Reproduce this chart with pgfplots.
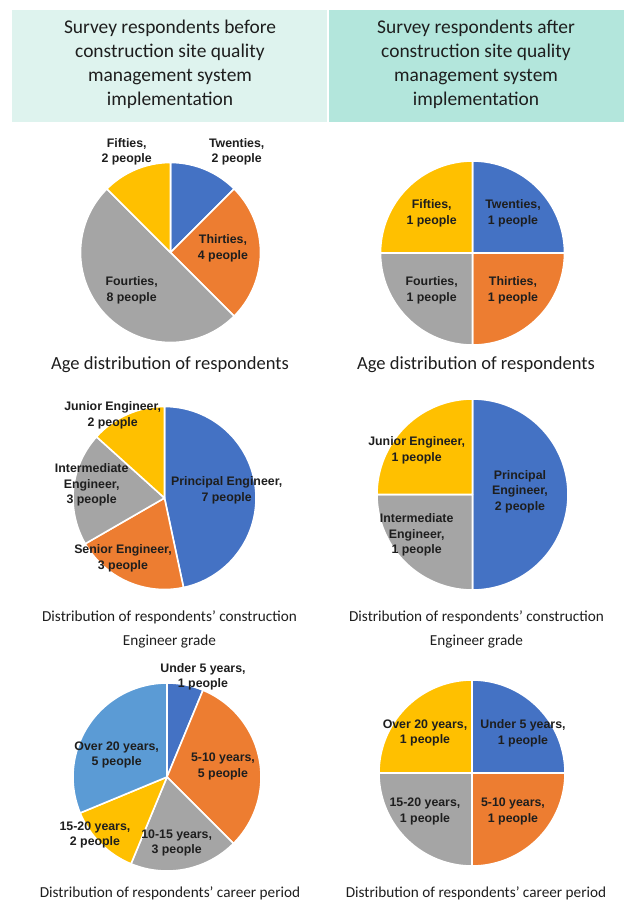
\documentclass[border=0pt]{standalone}
\usepackage{pgfplots}
\pgfplotsset{compat=1.18}
\usepackage{fontspec}
\setmainfont{Carlito}
\newfontfamily\lblfont{Liberation Sans}
\definecolor{cblue}{HTML}{4472C4}
\definecolor{corange}{HTML}{ED7D31}
\definecolor{cgray}{HTML}{A5A5A5}
\definecolor{cyellow}{HTML}{FFC000}
\definecolor{clblue}{HTML}{5B9BD5}
\definecolor{hleft}{RGB}{222,243,238}
\definecolor{hright}{RGB}{179,230,220}
\definecolor{txt}{RGB}{30,30,30}
% #1 cumulative count before slice, #2 count, #3 total, #4 colour
\newcommand{\slice}[4]{\addplot[fill=#4, draw=white, line width=1.6pt, line join=round, domain=90-360*(#1+#2)/#3:90-360*(#1)/#3, samples=90] ({cos(x)},{sin(x)}) -- (axis cs:0,0) -- cycle;}
\pgfplotsset{pie/.style={hide axis, scale only axis, width=#1, height=#1, xmin=-1, xmax=1, ymin=-1, ymax=1, clip=false, anchor=center}}
\tikzset{lbl/.style={font=\lblfont\bfseries\fontsize{12.4}{15.8}\selectfont, align=center, text=txt, inner sep=0pt},
 head/.style={font=\fontsize{19.5}{24}\selectfont, align=center, text=txt, inner sep=0pt},
 capt/.style={font=\fontsize{15.3}{24}\selectfont, align=center, text=txt, inner sep=0pt},
 captb/.style={font=\fontsize{18.6}{22}\selectfont, align=center, text=txt, inner sep=0pt}}
\begin{document}
\begin{tikzpicture}
\path[fill=white] (0,0) rectangle (626bp,-903bp);
\fill[hleft] (12bp,-10bp) rectangle (327bp,-122bp);
\fill[hright] (329bp,-10bp) rectangle (624bp,-122bp);
\node[head] at (170bp,-64.5bp) {Survey respondents before\\construction site quality\\management system\\implementation};
\node[head] at (476bp,-64.5bp) {Survey respondents after\\construction site quality\\management system\\implementation};

% Age, before: Twenties 2, Thirties 4, Fourties 8, Fifties 2
\begin{axis}[pie=180bp, at={(170.5bp,-252.5bp)}]
\slice{0}{2}{16}{cblue}
\slice{2}{4}{16}{corange}
\slice{6}{8}{16}{cgray}
\slice{14}{2}{16}{cyellow}
\end{axis}
% Age, after: 1,1,1,1
\begin{axis}[pie=184bp, at={(472.5bp,-253bp)}]
\slice{0}{1}{4}{cblue}
\slice{1}{1}{4}{corange}
\slice{2}{1}{4}{cgray}
\slice{3}{1}{4}{cyellow}
\end{axis}
% Grade, before: Principal 7, Senior 3, Intermediate 3, Junior 2
\begin{axis}[pie=183bp, at={(164.5bp,-498bp)}]
\slice{0}{7}{15}{cblue}
\slice{7}{3}{15}{corange}
\slice{10}{3}{15}{cgray}
\slice{13}{2}{15}{cyellow}
\end{axis}
% Grade, after: Principal 2, Intermediate 1, Junior 1
\begin{axis}[pie=191bp, at={(472.5bp,-494.5bp)}]
\slice{0}{2}{4}{cblue}
\slice{2}{1}{4}{cgray}
\slice{3}{1}{4}{cyellow}
\end{axis}
% Career, before: <5 1, 5-10 5, 10-15 3, 15-20 2, >20 5
\begin{axis}[pie=188bp, at={(167bp,-777bp)}]
\slice{0}{1}{16}{cblue}
\slice{1}{5}{16}{corange}
\slice{6}{3}{16}{cgray}
\slice{9}{2}{16}{cyellow}
\slice{11}{5}{16}{clblue}
\end{axis}
% Career, after: 1,1,1,1
\begin{axis}[pie=186bp, at={(472bp,-773bp)}]
\slice{0}{1}{4}{cblue}
\slice{1}{1}{4}{corange}
\slice{2}{1}{4}{cgray}
\slice{3}{1}{4}{cyellow}
\end{axis}

% labels
\node[lbl] at (126.7bp,-151.7bp) {Fifties,\\2 people};
\node[lbl] at (236.7bp,-151.7bp) {Twenties,\\2 people};
\node[lbl] at (223bp,-248bp) {Thirties,\\4 people};
\node[lbl] at (131.7bp,-290bp) {Fourties,\\8 people};

\node[lbl] at (431.7bp,-213bp) {Fifties,\\1 people};
\node[lbl] at (513bp,-213bp) {Twenties,\\1 people};
\node[lbl] at (431.7bp,-290bp) {Fourties,\\1 people};
\node[lbl] at (513bp,-290bp) {Thirties,\\1 people};

\node[lbl] at (112.7bp,-415bp) {Junior Engineer,\\2 people};
\node[lbl] at (91.7bp,-485bp) {Intermediate\\Engineer,\\3 people};
\node[lbl] at (226.7bp,-490bp) {Principal Engineer,\\7 people};
\node[lbl] at (123bp,-558bp) {Senior Engineer,\\3 people};

\node[lbl] at (416.7bp,-450bp) {Junior Engineer,\\1 people};
\node[lbl] at (520bp,-491.7bp) {Principal\\Engineer,\\2 people};
\node[lbl] at (416.7bp,-535bp) {Intermediate\\Engineer,\\1 people};

\node[lbl] at (203bp,-676.7bp) {Under 5 years,\\1 people};
\node[lbl] at (223bp,-766.7bp) {5-10 years,\\5 people};
\node[lbl] at (116.7bp,-755bp) {Over 20 years,\\5 people};
\node[lbl] at (95bp,-835bp) {15-20 years,\\2 people};
\node[lbl] at (176.7bp,-843bp) {10-15 years,\\3 people};

\node[lbl] at (425bp,-733bp) {Over 20 years,\\1 people};
\node[lbl] at (523bp,-733bp) {Under 5 years,\\1 people};
\node[lbl] at (425bp,-811.7bp) {15-20 years,\\1 people};
\node[lbl] at (513bp,-811.7bp) {5-10 years,\\1 people};

% captions
\node[captb] at (170bp,-365bp) {Age distribution of respondents};
\node[captb] at (476bp,-365bp) {Age distribution of respondents};
\node[capt] at (169.5bp,-629bp) {Distribution of respondents’ construction\\Engineer grade};
\node[capt] at (476.5bp,-629bp) {Distribution of respondents’ construction\\Engineer grade};
\node[capt] at (170bp,-893bp) {Distribution of respondents’ career period};
\node[capt] at (476bp,-893bp) {Distribution of respondents’ career period};
\end{tikzpicture}
\end{document}
